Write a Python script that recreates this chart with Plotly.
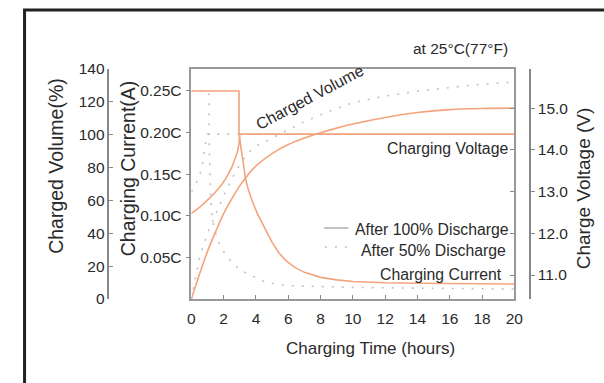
import plotly.graph_objects as go

# ---- data ----
hours_ticks = [0, 2, 4, 6, 8, 10, 12, 14, 16, 18, 20]

# After 100% discharge (solid)
t_cur100 = [0, 2.95, 2.95, 3.05, 3.2, 3.35, 3.5, 3.8, 4.1, 4.4, 4.7, 5.0, 5.4, 5.8, 6.4, 7.0, 8.0, 9.0, 10, 12, 14, 17, 20]
cur100 = [0.25, 0.25, 0.198, 0.185, 0.163, 0.145, 0.133, 0.116, 0.102, 0.09, 0.078, 0.068, 0.056, 0.047, 0.038,
          0.032, 0.026, 0.023, 0.021, 0.0195, 0.019, 0.0182, 0.018]
t_volt100 = [0, 0.5, 0.9, 1.4, 1.9, 2.2, 2.5, 2.7, 2.85, 2.95, 3.0, 20]
volt100 = [12.48, 12.62, 12.76, 12.95, 13.18, 13.36, 13.58, 13.77, 13.95, 14.15, 14.38, 14.38]
t_vol100 = [0, 0.5, 1, 1.5, 2, 2.5, 3, 3.5, 4, 5, 6, 7, 8, 9, 10, 12, 14, 16, 18, 20]
vol100 = [0, 15, 29, 41, 52, 61, 69, 75.5, 81, 88.5, 94, 98, 101.2, 104, 106.5, 110.5, 113.5, 115.3, 116, 116.2]

# After 50% discharge (dotted)
t_cur50 = [0, 1.1, 1.1, 1.15, 1.2, 1.3, 1.6, 2.0, 2.5, 3.0, 3.5, 4.0, 4.5, 5, 6, 8, 10, 14, 20]
cur50 = [0.25, 0.25, 0.19, 0.15, 0.118, 0.095, 0.072, 0.057, 0.044, 0.035, 0.03, 0.025, 0.021, 0.019, 0.016,
         0.015, 0.014, 0.013, 0.012]
t_volt50 = [0, 0.3, 0.55, 0.7, 0.85, 1.0, 20]
volt50 = [13.0, 13.2, 13.45, 13.7, 14.1, 14.38, 14.38]
t_vol50 = [0, 0.5, 1, 1.5, 2, 2.5, 3, 3.5, 4, 5, 6, 7, 8, 9, 10, 12, 14, 16, 18, 20]
vol50 = [0, 25, 40, 52, 63, 73, 82, 89, 93, 98, 103, 108, 112, 116, 119.5, 123.5, 126.5, 128.8, 130.8, 132]

cur_tickvals = [0.05, 0.10, 0.15, 0.20, 0.25]
cur_ticktext = ["0.05C", "0.10C", "0.15C", "0.20C", "0.25C"]
vol_tickvals = [0, 20, 40, 60, 80, 100, 120, 140]
volt_tickvals = [11, 12, 13, 14, 15]
volt_ticktext = ["11.0", "12.0", "13.0", "14.0", "15.0"]

# ---- styling ----
W, H = 604, 383
ORANGE = "#F4A47C"
GRAY_DOT = "#C2C2C2"
TXT = "#2a2a2a"
FONT = "Arial, Liberation Sans, sans-serif"

px_left, px_right, px_top, px_bot = 191.5, 521.6, 69, 299
def px(x):
    return x / W
def py(y):
    return (px_bot - y) / (px_bot - px_top)

fig = go.Figure()
solid = dict(color=ORANGE, width=1.6)
dotted = dict(color=GRAY_DOT, width=1.6, dash="2px,8px")

fig.add_trace(go.Scatter(x=t_cur50, y=cur50, mode="lines", line=dotted, yaxis="y", showlegend=False))
fig.add_trace(go.Scatter(x=t_vol50, y=vol50, mode="lines", line=dotted, yaxis="y2", showlegend=False))
fig.add_trace(go.Scatter(x=t_volt50, y=volt50, mode="lines", line=dotted, yaxis="y3", showlegend=False))
fig.add_trace(go.Scatter(x=t_cur100, y=cur100, mode="lines", line=solid, yaxis="y", showlegend=False))
fig.add_trace(go.Scatter(x=t_vol100, y=vol100, mode="lines", line=dict(color=ORANGE, width=1.6, shape="spline"),
                         yaxis="y2", showlegend=False))
fig.add_trace(go.Scatter(x=t_volt100, y=volt100, mode="lines", line=solid, yaxis="y3", showlegend=False))

tickfont = dict(family=FONT, size=15.5, color=TXT)
volt_range = [10.424, 15.943]

fig.update_layout(
    width=W, height=H,
    margin=dict(l=0, r=0, t=px_top, b=H - px_bot),
    paper_bgcolor="white", plot_bgcolor="white",
    font=dict(family=FONT, color=TXT),
    xaxis=dict(domain=[px(px_left), px(px_right)], range=[0, 20], tickvals=hours_ticks,
               ticks="inside", ticklen=4, tickcolor="#888", showline=True, linecolor="#999", linewidth=1.5,
               mirror=True, showgrid=False, zeroline=False, tickfont=tickfont, ticklabelstandoff=5),
    yaxis=dict(range=[0, 0.2764], tickvals=cur_tickvals, ticktext=cur_ticktext, ticks="outside", ticklen=4,
               tickcolor="#888", showline=True, linecolor="#999", linewidth=1.5, mirror=True,
               showgrid=False, zeroline=False, tickfont=tickfont, ticklabelstandoff=1),
    yaxis2=dict(overlaying="y", anchor="free", position=px(106.7), side="left", range=[0, 140],
                tickvals=vol_tickvals, ticks="inside", ticklen=4, tickcolor="#888", showline=True,
                linecolor="#888", linewidth=1.5, showgrid=False, zeroline=False, tickfont=tickfont),
    yaxis3=dict(overlaying="y", anchor="free", position=px(537.5), side="right", range=volt_range,
                tickvals=volt_tickvals, ticktext=volt_ticktext, ticks="outside", ticklen=4, tickcolor="#888",
                showline=True, linecolor="#888", linewidth=1.5, showgrid=False, zeroline=False,
                tickfont=tickfont),
    yaxis4=dict(overlaying="y", anchor="x", side="right", range=volt_range, tickvals=volt_tickvals,
                ticks="inside", ticklen=4, tickcolor="#888", showticklabels=False, showline=False,
                showgrid=False, zeroline=False),
)
# dummy trace to activate yaxis4
fig.add_trace(go.Scatter(x=[None], y=[None], yaxis="y4", showlegend=False))

anns = [
    dict(text="at 25°C(77°F)", x=px(517), y=py(48), xanchor="right", yanchor="middle", size=15.5, angle=0),
    dict(text="Charged Volume", x=px(312), y=py(97), xanchor="center", yanchor="middle", size=16, angle=-28),
    dict(text="Charging Voltage", x=px(517), y=py(148), xanchor="right", yanchor="middle", size=15.8, angle=0),
    dict(text="After 100% Discharge", x=px(518), y=py(229), xanchor="right", yanchor="middle", size=15.8, angle=0),
    dict(text="After 50% Discharge", x=px(515), y=py(250), xanchor="right", yanchor="middle", size=15.8, angle=0),
    dict(text="Charging Current", x=px(511), y=py(274), xanchor="right", yanchor="middle", size=15.8, angle=0),
    dict(text="Charging Time (hours)", x=px(375), y=py(348), xanchor="center", yanchor="middle", size=17, angle=0),
    dict(text="Charged Volume(%)", x=px(53), y=py(166), xanchor="center", yanchor="middle", size=19.5, angle=-90),
    dict(text="Charging Current(A)", x=px(127), y=py(168), xanchor="center", yanchor="middle", size=19.5, angle=-90),
    dict(text="Charge Voltage (V)", x=px(592), y=py(188), xanchor="center", yanchor="middle", size=19, angle=-90),
]
for a in anns:
    fig.add_annotation(text=a["text"], x=a["x"], y=a["y"], xref="paper", yref="paper", xanchor=a["xanchor"],
                       yanchor=a["yanchor"], textangle=a["angle"], showarrow=False,
                       font=dict(family=FONT, size=a["size"], color=TXT))

# legend samples
fig.add_shape(type="line", xref="paper", yref="paper", x0=px(327), x1=px(352), y0=py(228), y1=py(228),
              line=dict(color="#999", width=1.2))
fig.add_shape(type="line", xref="paper", yref="paper", x0=px(328), x1=px(352), y0=py(247), y1=py(247),
              line=dict(color=GRAY_DOT, width=1.6, dash="2px,8px"))
# outer frame
fig.add_shape(type="rect", xref="paper", yref="paper", x0=px(21), x1=px(640), y0=py(420), y1=py(10),
              line=dict(color="#222", width=3), fillcolor="rgba(0,0,0,0)", layer="above")

fig.write_html("out.html", config={"displayModeBar": False},
               post_script="document.body.style.margin='0';document.body.style.overflow='hidden';")
